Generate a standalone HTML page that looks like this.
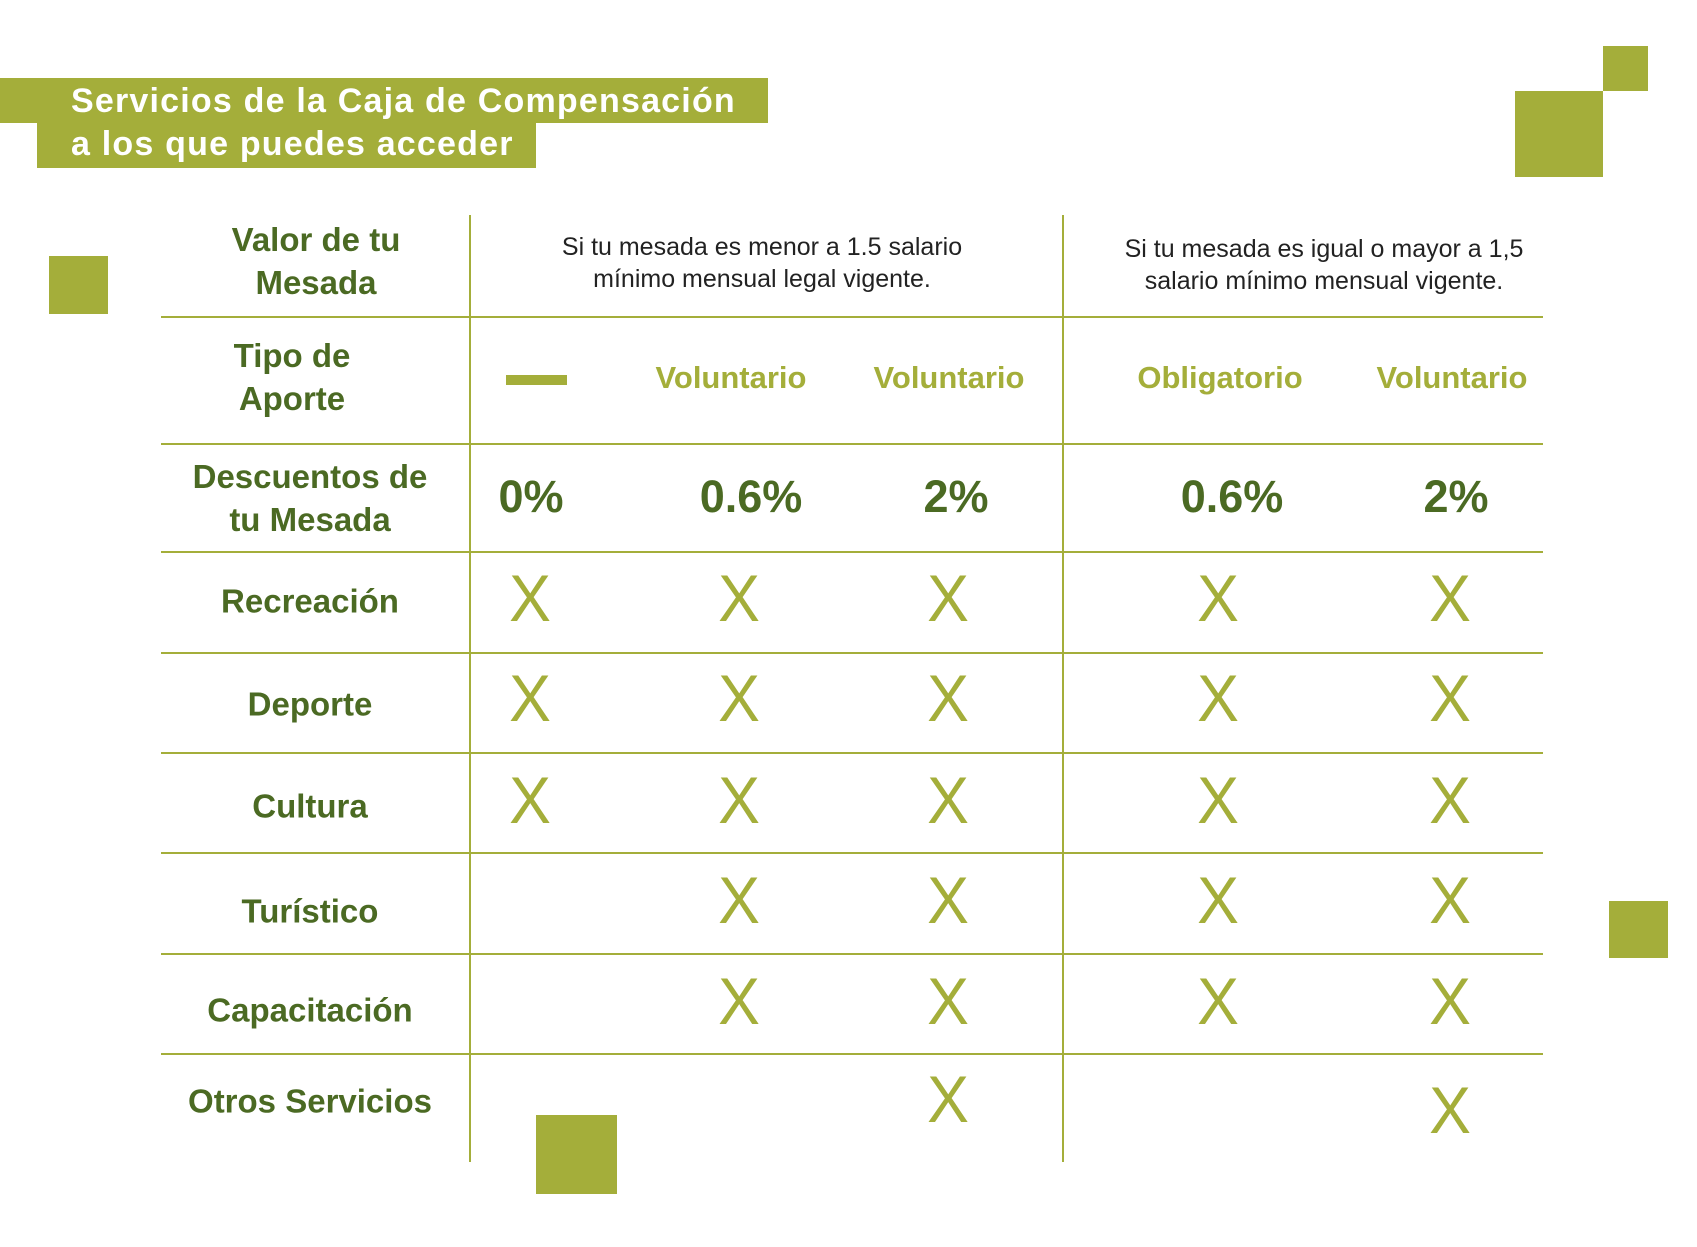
<!DOCTYPE html>
<html><head><meta charset="utf-8"><style>
body{margin:0;width:1697px;height:1247px;background:#fff;position:relative;overflow:hidden;font-family:"Liberation Sans",sans-serif}
.b{position:absolute;background:#a4ae3a}
.t{position:absolute;transform:translate(-50%,-50%);text-align:center;white-space:nowrap}
.l{color:#4b6a23;font-size:33px;font-weight:bold;line-height:43px}
.h{color:#222;font-size:25px;line-height:32px}
.v{color:#a4ae3a;font-size:31px;font-weight:bold}
.p{color:#4b6a23;font-size:45px;font-weight:bold}
.x{color:#a4ae3a;font-size:66px;transform:translate(-50%,-50%) scaleX(0.95)}
.hl{position:absolute;left:161px;width:1382px;height:2px;background:#a4ae3a}
.vl{position:absolute;top:215px;height:947px;width:2px;background:#a4ae3a}
.tt{position:absolute;color:#fff;font-size:34px;font-weight:bold;left:71px;letter-spacing:1.2px}
</style></head><body>
<div class="b" style="left:0;top:78px;width:768px;height:45px"></div>
<div class="b" style="left:37px;top:123px;width:499px;height:45px"></div>
<div class="tt" style="top:82px">Servicios de la Caja de Compensación</div>
<div class="tt" style="top:125px">a los que puedes acceder</div>
<div class="b" style="left:1603px;top:46px;width:45px;height:45px"></div>
<div class="b" style="left:1515px;top:91px;width:88px;height:86px"></div>
<div class="b" style="left:49px;top:256px;width:59px;height:58px"></div>
<div class="b" style="left:1609px;top:901px;width:59px;height:57px"></div>
<div class="b" style="left:536px;top:1115px;width:81px;height:79px"></div>
<div class="vl" style="left:469px"></div>
<div class="vl" style="left:1062px"></div>
<div class="hl" style="top:316px"></div>
<div class="hl" style="top:443px"></div>
<div class="hl" style="top:551px"></div>
<div class="hl" style="top:652px"></div>
<div class="hl" style="top:752px"></div>
<div class="hl" style="top:852px"></div>
<div class="hl" style="top:953px"></div>
<div class="hl" style="top:1053px"></div>

<div class="t l" style="left:316px;top:261px">Valor de tu<br>Mesada</div>
<div class="t h" style="left:762px;top:263px">Si tu mesada es menor a 1.5 salario<br>mínimo mensual legal vigente.</div>
<div class="t h" style="left:1324px;top:265px">Si tu mesada es igual o mayor a 1,5<br>salario mínimo mensual vigente.</div>

<div class="t l" style="left:292px;top:377px">Tipo de<br>Aporte</div>
<div class="b" style="left:506px;top:375px;width:61px;height:10px"></div>
<div class="t v" style="left:731px;top:378px">Voluntario</div>
<div class="t v" style="left:949px;top:378px">Voluntario</div>
<div class="t v" style="left:1220px;top:378px">Obligatorio</div>
<div class="t v" style="left:1452px;top:378px">Voluntario</div>

<div class="t l" style="left:310px;top:498px">Descuentos de<br>tu Mesada</div>
<div class="t p" style="left:531px;top:497px">0%</div>
<div class="t p" style="left:751px;top:497px">0.6%</div>
<div class="t p" style="left:956px;top:497px">2%</div>
<div class="t p" style="left:1232px;top:497px">0.6%</div>
<div class="t p" style="left:1456px;top:497px">2%</div>

<div class="t l" style="left:310px;top:601px">Recreación</div>
<div class="t l" style="left:310px;top:704px">Deporte</div>
<div class="t l" style="left:310px;top:806px">Cultura</div>
<div class="t l" style="left:310px;top:911px">Turístico</div>
<div class="t l" style="left:310px;top:1010px">Capacitación</div>
<div class="t l" style="left:310px;top:1101px">Otros Servicios</div>

<div class="t x" style="left:530px;top:598px">X</div>
<div class="t x" style="left:739px;top:598px">X</div>
<div class="t x" style="left:948px;top:598px">X</div>
<div class="t x" style="left:1218px;top:598px">X</div>
<div class="t x" style="left:1450px;top:598px">X</div>

<div class="t x" style="left:530px;top:698px">X</div>
<div class="t x" style="left:739px;top:698px">X</div>
<div class="t x" style="left:948px;top:698px">X</div>
<div class="t x" style="left:1218px;top:698px">X</div>
<div class="t x" style="left:1450px;top:698px">X</div>

<div class="t x" style="left:530px;top:800px">X</div>
<div class="t x" style="left:739px;top:800px">X</div>
<div class="t x" style="left:948px;top:800px">X</div>
<div class="t x" style="left:1218px;top:800px">X</div>
<div class="t x" style="left:1450px;top:800px">X</div>

<div class="t x" style="left:739px;top:900px">X</div>
<div class="t x" style="left:948px;top:900px">X</div>
<div class="t x" style="left:1218px;top:900px">X</div>
<div class="t x" style="left:1450px;top:900px">X</div>

<div class="t x" style="left:739px;top:1001px">X</div>
<div class="t x" style="left:948px;top:1001px">X</div>
<div class="t x" style="left:1218px;top:1001px">X</div>
<div class="t x" style="left:1450px;top:1001px">X</div>

<div class="t x" style="left:948px;top:1099px">X</div>
<div class="t x" style="left:1450px;top:1110px">X</div>
</body></html>
